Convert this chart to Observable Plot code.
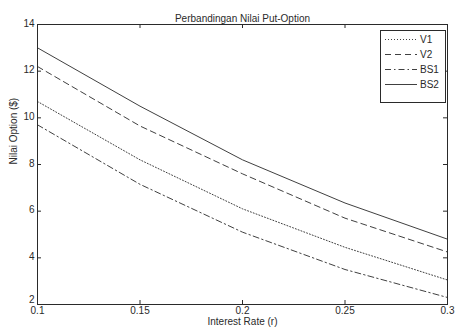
<!DOCTYPE html>
<html><head><meta charset="utf-8">
<script src="https://cdn.jsdelivr.net/npm/d3@7"></script>
<script src="https://cdn.jsdelivr.net/npm/@observablehq/plot@0.6"></script>
<style>
html,body{margin:0;padding:0;background:#fff;}
#wrap{position:relative;width:456px;height:330px;font-family:"Liberation Sans",Arial,sans-serif;}
#legend{position:absolute;left:380px;top:30px;}
</style></head><body>
<div id="wrap"><div id="chart"></div><div id="legend"></div></div>
<script>
const rates = [0.1, 0.15, 0.2, 0.25, 0.3];
const V1 = [10.7, 8.2, 6.1, 4.45, 3.05];
const V2 = [12.2, 9.65, 7.6, 5.7, 4.25];
const BS1 = [9.7, 7.15, 5.1, 3.5, 2.3];
const BS2 = [13.0, 10.5, 8.2, 6.35, 4.8];
const seriesNames = ["V1", "V2", "BS1", "BS2"];
const xTicks = [0.1, 0.15, 0.2, 0.25, 0.3];
const yTicks = [2, 4, 6, 8, 10, 12, 14];
const title = "Perbandingan Nilai Put-Option";
const xLabel = "Interest Rate (r)";
const yLabel = "Nilai Option ($)";

const seriesValues = {V1, V2, BS1, BS2};
const dash = {V1: "1,2", V2: "6,4", BS1: "6,3,1.5,3", BS2: "none"};
const data = seriesNames.flatMap(s => rates.map((r, i) => ({series: s, r, v: seriesValues[s][i]})));

const W = 456, H = 330, mL = 37, mR = 9, mT = 24, mB = 26;
const pW = W - mL - mR, pH = H - mT - mB;
const ink = "#2a2a2a";

const chart = Plot.plot({
  width: W, height: H,
  marginLeft: mL, marginRight: mR, marginTop: mT, marginBottom: mB,
  style: {fontFamily: '"Liberation Sans", Arial, sans-serif', fontSize: "10px", color: ink, background: "transparent"},
  x: {domain: [0.1, 0.3]},
  y: {domain: [2, 14]},
  marks: [
    ...seriesNames.map(s => Plot.line(data.filter(d => d.series === s), {
      x: "r", y: "v", stroke: ink, strokeWidth: 0.9, strokeDasharray: dash[s]
    })),
    Plot.frame({stroke: ink, strokeWidth: 1}),
    Plot.tickX(xTicks, {x: d => d, insetTop: pH - 4, stroke: ink}),
    Plot.tickX(xTicks, {x: d => d, insetBottom: pH - 4, stroke: ink}),
    Plot.tickY(yTicks, {y: d => d, insetRight: pW - 4, stroke: ink}),
    Plot.tickY(yTicks, {y: d => d, insetLeft: pW - 4, stroke: ink}),
    Plot.axisX({ticks: xTicks, tickSize: 0, tickPadding: 2, tickFormat: d => String(d), label: null}),
    Plot.axisY({ticks: yTicks.filter(t => t > 2), tickSize: 0, tickPadding: 3, dy: -1, tickFormat: d => String(d), label: null}),
    Plot.axisY({ticks: yTicks.filter(t => t === 2), tickSize: 0, tickPadding: 3, dy: -5, tickFormat: d => String(d), label: null}),
    Plot.text([title], {text: d => d, frameAnchor: "top", dy: -10, fill: ink, fontSize: 10}),
    Plot.text([xLabel], {text: d => d, frameAnchor: "bottom", dy: 20, fill: ink, fontSize: 10}),
    Plot.text([yLabel], {text: d => d, frameAnchor: "left", dx: -24, rotate: -90, fill: ink, fontSize: 10})
  ]
});
document.getElementById("chart").appendChild(chart);

// legend
const lg = d3.select("#legend").append("svg").attr("width", 66).attr("height", 74)
  .style("font-family", '"Liberation Sans", Arial, sans-serif').style("font-size", "10px");
lg.append("rect").attr("x", 0.5).attr("y", 0.5).attr("width", 65).attr("height", 72)
  .attr("fill", "#fff").attr("stroke", ink);
seriesNames.forEach((s, i) => {
  const y = 9.5 + i * 15;
  lg.append("line").attr("x1", 5).attr("x2", 37).attr("y1", y).attr("y2", y)
    .attr("stroke", ink).attr("stroke-width", 0.9).attr("stroke-dasharray", dash[s]);
  lg.append("text").attr("x", 40).attr("y", y).attr("dy", "0.35em").attr("fill", ink).text(s);
});
</script>
</body></html>
